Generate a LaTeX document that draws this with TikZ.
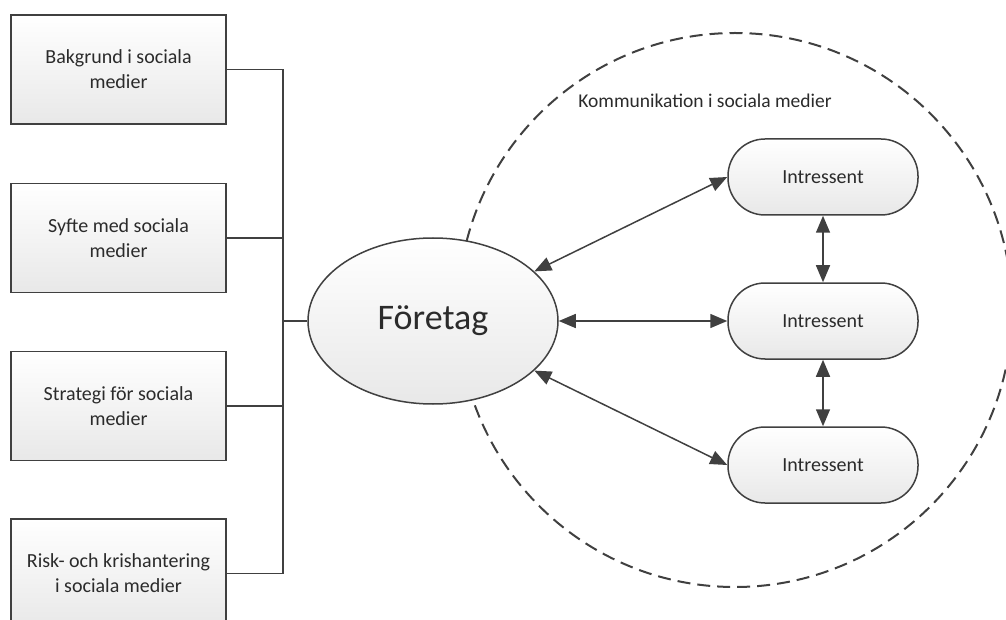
\documentclass[tikz,border=0pt]{standalone}
\usepackage{fontspec}
\setmainfont{Carlito}
\usetikzlibrary{positioning}
\usetikzlibrary{shapes}
\usetikzlibrary{arrows.meta}
\definecolor{linegray}{HTML}{404040}
\definecolor{textgray}{HTML}{2B2B2B}

\begin{document}
\begin{tikzpicture}[x=1pt,y=-1pt,
  topic/.style={draw=linegray, line width=1.6pt, top color=white, bottom color=black!9,
    minimum width=215pt, minimum height=109pt, inner sep=0pt, align=center,
    text=textgray, font=\fontsize{20}{25}\selectfont},
  actor/.style={draw=linegray, line width=1.5pt, rounded corners=37pt, top color=white,
    bottom color=black!9, minimum width=190pt, minimum height=76pt, inner sep=0pt,
    text=textgray, font=\fontsize{20}{24}\selectfont},
  link/.style={draw=linegray, line width=1.5pt},
  both/.style={link, {Triangle[length=17pt,width=14pt]}-{Triangle[length=17pt,width=14pt]}}]
\useasboundingbox (0,0) rectangle (1006,620);
\clip (0,0) rectangle (1006,620);

%dashed circle
\draw[linegray, line width=2pt, dash pattern=on 13pt off 7pt] (735,310) circle (277);
\node[text=textgray, font=\fontsize{19.5}{24}\selectfont] (komm) at (705,101) {Kommunikation i sociala medier};

%topics
\node[topic] (bakgrund) at (118.5,69.5) {Bakgrund i sociala\\medier};
\node[topic] (syfte) at (118.5,238) {Syfte med sociala\\medier};
\node[topic] (strategi) at (118.5,406) {Strategi för sociala\\medier};
\node[topic] (risk) at (118.5,573.5) {Risk- och krishantering\\i sociala medier};

%company
\node[ellipse, draw=linegray, line width=1.5pt, top color=white, bottom color=black!9,
  minimum width=250pt, minimum height=166pt, inner sep=0pt, text=textgray,
  font=\fontsize{36}{40}\selectfont] (foretag) at (433,321) {Företag};

%stakeholders
\node[actor] (int1) at (823,177) {Intressent};
\node[actor] (int2) at (823,321) {Intressent};
\node[actor] (int3) at (823,465) {Intressent};

%bus
\coordinate (bus) at (283,321);
\draw[link] (bakgrund.east) -| (bus) |- (risk.east);
\draw[link] (syfte.east) -- (syfte.east -| bus);
\draw[link] (strategi.east) -- (strategi.east -| bus);
\draw[link] (bus) -- (foretag.west);

%communication
\draw[both] (foretag) -- (int1.west);
\draw[both] (foretag) -- (int2.west);
\draw[both] (foretag) -- (int3.west);
\draw[both] (int1) -- (int2);
\draw[both] (int2) -- (int3);

\end{tikzpicture}
\end{document}
